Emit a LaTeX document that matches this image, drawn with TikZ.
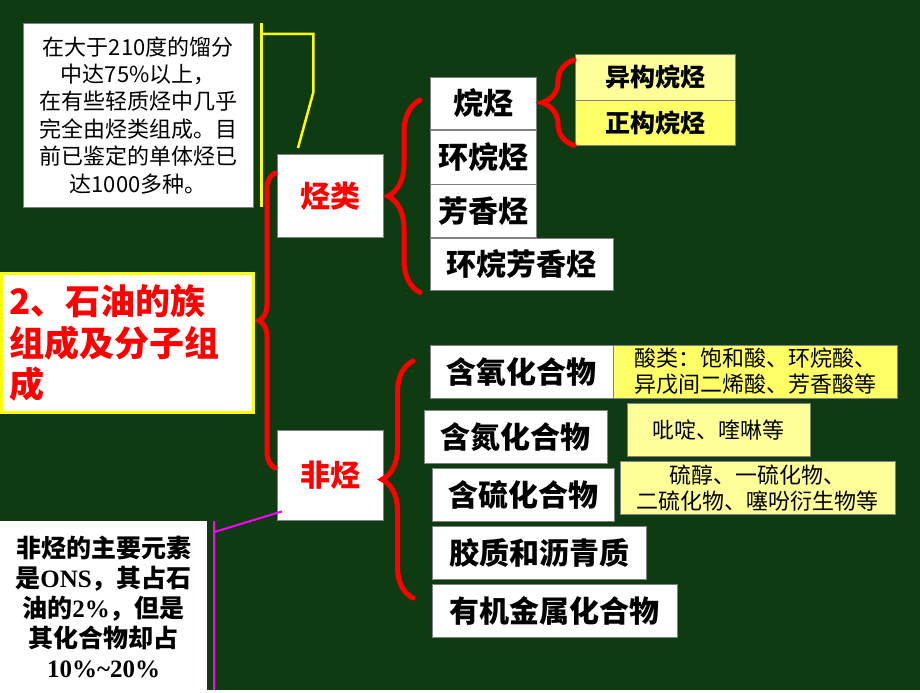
\documentclass[tikz,border=0pt]{standalone}
\usepackage{fontspec}
\setmainfont{Liberation Sans}
\newfontfamily\cjk{Noto Sans CJK SC}
\newfontfamily\lserif{Liberation Serif}
\usetikzlibrary{calc, decorations.pathreplacing}
\definecolor{bg}{HTML}{0F3B12}
\definecolor{c1}{HTML}{FFFF99}
\definecolor{c2}{HTML}{FFFF66}
\definecolor{c3}{HTML}{FF0000}
\definecolor{c4}{HTML}{FF00FF}
\definecolor{c5}{HTML}{FFFF00}

\tikzset{
	box/.style={fill=white, draw=gray, thin, anchor=north west, inner sep=0pt, align=center},
	kid/.style={box, font=\cjk\bfseries\fontsize{30}{30}\selectfont},
	sub/.style={box, fill=#1, font=\cjk\fontsize{22}{26}\selectfont},
	grp/.style={box, text=c3, font=\cjk\bfseries\fontsize{30}{30}\selectfont},
	brc/.style={c3, line width=5pt, line cap=round, decorate, decoration={brace, amplitude=#1}},
}

\begin{document}
\begin{tikzpicture}[x=1pt, y=-1pt]
	\fill[bg] (0, 0) rectangle (920, 690);

	% notes on the left
	\node[box, minimum width=230, minimum height=184, font=\cjk\fontsize{22}{27.4}\selectfont] (hcnote) at (23, 23)
		{在大于210度的馏分\\中达75\%以上，\\在有些轻质烃中几乎\\完全由烃类组成。目\\前已鉴定的单体烃已\\达1000多种。};
	\node[box, draw=c5, line width=3pt, minimum height=139, text width=236, align=left, inner xsep=8pt, text=c3,
		font=\cjk\bfseries\fontsize{35}{41.5}\selectfont] (title) at (0, 272)
		{2、石油的族\\组成及分子组\\成};
	\node[box, draw=none, minimum width=207, minimum height=171, font=\cjk\bfseries\fontsize{25}{30}\selectfont] (nhcnote) at (0, 521)
		{非烃的主要元素\\是{\lserif\bfseries ONS}，其占石\\油的{\lserif\bfseries 2\%}，但是\\其化合物却占\\{\lserif\bfseries 10\%\textasciitilde20\%}};

	% groups
	\node[grp, minimum width=106, minimum height=83] (hc) at (277, 154) {烃类};
	\node[grp, minimum width=106, minimum height=90] (nhc) at (277, 430) {非烃};

	% hydrocarbons
	\node[kid, minimum width=106, minimum height=52] (alk) at (430, 77) {烷烃};
	\node[kid, minimum width=106, minimum height=54] (cyc) at (430, 130) {环烷烃};
	\node[kid, minimum width=106, minimum height=53] (aro) at (430, 184) {芳香烃};
	\node[kid, minimum width=183, minimum height=52] (cycaro) at (430, 238) {环烷芳香烃};
	\node[box, fill=c1, minimum width=160, minimum height=46, font=\cjk\bfseries\fontsize{25}{25}\selectfont] (iso) at (575, 54) {异构烷烃};
	\node[box, fill=c2, minimum width=160, minimum height=45, font=\cjk\bfseries\fontsize{25}{25}\selectfont] (norm) at (575, 100) {正构烷烃};

	% non-hydrocarbons
	\node[kid, minimum width=183, minimum height=53] (oxy) at (430, 345) {含氧化合物};
	\node[kid, minimum width=183, minimum height=53] (nit) at (424, 410) {含氮化合物};
	\node[kid, minimum width=182, minimum height=53] (sul) at (432, 468) {含硫化合物};
	\node[kid, minimum width=214, minimum height=53] (resin) at (432, 526) {胶质和沥青质};
	\node[kid, minimum width=245, minimum height=53] (metal) at (432, 584) {有机金属化合物};
	\node[sub=c2, minimum width=284, minimum height=53] (acid) at (613, 345) {酸类：饱和酸、环烷酸、\\异戊间二烯酸、芳香酸等};
	\node[sub=c1, minimum width=183, minimum height=53] (pyr) at (627, 403) {吡啶、喹啉等};
	\node[sub=c1, minimum width=275, minimum height=53] (thiol) at (620, 461) {硫醇、一硫化物、\\二硫化物、噻吩衍生物等};

	% braces
	\draw[brc=16] ($(nhc.north west) + (-2, 38)$) -- ($(hc.north west) + (-2, 19)$);
	\draw[brc=32] ($(cycaro.south west) + (-10, 2)$) -- ($(alk.north west) + (-10, 23)$);
	\draw[brc=32] ($(norm.south west) + (-1, 0)$) -- ($(iso.north west) + (-1, 6)$);
	\draw[brc=31] ($(metal.north west) + (-19, 14)$) -- ($(oxy.north west) + (-17, 16)$);

	% pointer lines
	\coordinate (ya) at ($(hcnote.north east) + (8, 0)$);
	\coordinate (yb) at ($(hcnote.south east) + (8, 0)$);
	\coordinate (yc) at ($(hc.north west) + (21, -6)$);
	\draw[c5, line width=2.5pt] (ya) -- (yb);
	\draw[c5, line width=2.5pt] ($(ya) + (0, 11)$) -- ++ (52, 0) -- ++ (0, 58) -- (yc);

	\coordinate (ma) at ($(nhcnote.north east) + (7, 0)$);
	\coordinate (mb) at ($(nhc.south west) + (5, -9)$);
	\draw[c4, line width=2pt] (ma) -- (ma |- 0, 690);
	\draw[c4, line width=2pt] ($(ma) + (0, 11)$) -- (mb);
\end{tikzpicture}
\end{document}
